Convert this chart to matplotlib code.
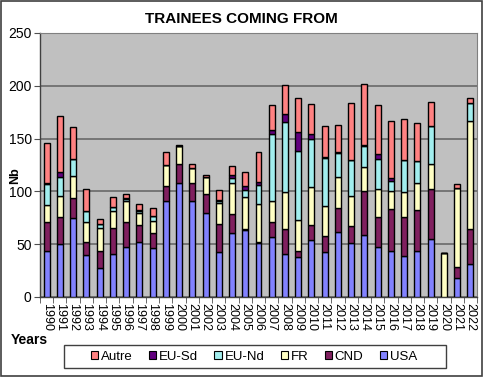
import matplotlib.pyplot as plt
import numpy as np
from matplotlib.patches import Rectangle

years = [str(y) for y in range(1990, 2023)]

usa = [44, 50, 75, 40, 27, 41, 47, 52, 46, 91, 108, 91, 80, 43, 61, 63, 51,
       57, 41, 38, 54, 43, 62, 51, 59, 47, 44, 39, 44, 55, 0, 18, 31]
cnd = [27, 26, 19, 12, 17, 24, 24, 16, 15, 14, 18, 17, 18, 26, 18, 1, 1,
       14, 23, 6, 14, 15, 22, 16, 41, 29, 39, 37, 38, 47, 0, 10, 33]
fr = [16, 20, 21, 19, 21, 16, 20, 12, 11, 20, 17, 14, 16, 20, 29, 31, 36,
      20, 35, 29, 36, 28, 30, 29, 23, 26, 17, 23, 26, 24, 42, 75, 103]
eu_nd = [20, 18, 16, 10, 4, 4, 2, 1, 5, 0, 0, 0, 0, 2, 5, 6, 18,
         63, 67, 65, 46, 46, 22, 34, 20, 29, 10, 31, 21, 36, 0, 0, 17]
eu_sd = [1, 4, 0, 0, 0, 0, 1, 1, 0, 0, 0, 0, 0, 1, 3, 4, 3,
         4, 7, 18, 4, 1, 1, 0, 1, 4, 3, 0, 0, 0, 0, 0, 0]
autre = [38, 53, 30, 21, 5, 10, 4, 6, 7, 12, 1, 4, 2, 9, 8, 13, 28,
         24, 28, 32, 29, 29, 26, 54, 58, 47, 54, 39, 36, 23, 0, 4, 4]

series = [("USA", usa, "#8282FF"),
          ("CND", cnd, "#80205F"),
          ("FR", fr, "#FFFFC4"),
          ("EU-Nd", eu_nd, "#A2EEEE"),
          ("EU-Sd", eu_sd, "#62007E"),
          ("Autre", autre, "#FF8282")]

plt.rcParams["font.family"] = ["Liberation Sans", "DejaVu Sans"]

fig = plt.figure(figsize=(4.83, 3.77), dpi=100)
ax = fig.add_axes([40 / 483, 1 - 297 / 377, 437 / 483, 264 / 377])
ax.set_facecolor("#C0C0C0")

x = np.arange(len(years))
bottom = np.zeros(len(years))
handles = []
for name, vals, col in series:
    v = np.array(vals, dtype=float)
    b = ax.bar(x, v, 0.45, bottom=bottom, color=col, edgecolor="black",
               linewidth=1.0, label=name, zorder=3)
    bottom += v
    handles.append(b)

ax.set_xlim(-0.5, len(years) - 0.5)
ax.set_ylim(0, 250)
ax.set_yticks(np.arange(0, 251, 50))
ax.yaxis.grid(True, color="#707070", linewidth=1.3, zorder=0)
ax.tick_params(axis="y", labelsize=10, length=4, color="#505050", pad=2)

ax.set_xticks(x)
ax.set_xticklabels(years, rotation=-90, fontsize=9)
ax.tick_params(axis="x", which="major", length=0, pad=4)
ax.set_xticks(np.arange(-0.5, len(years), 1), minor=True)
ax.tick_params(axis="x", which="minor", length=4, color="#505050")

for side in ["top", "right"]:
    ax.spines[side].set_color("#808080")
for side in ["left", "bottom"]:
    ax.spines[side].set_color("#404040")
    ax.spines[side].set_linewidth(1.0)

fig.text(241 / 483, 1 - 19 / 377, "TRAINEES COMING FROM", ha="center",
         va="center", fontsize=11, fontweight="bold")
fig.text(15 / 483, 1 - 176 / 377, "Nb", ha="center", va="center",
         rotation=90, fontsize=9, fontweight="bold")
fig.text(11 / 483, 1 - 340 / 377, "Years", ha="left", va="center",
         fontsize=10, fontweight="bold")

# legend entries without frame, box drawn separately (Excel-style padding)
leg = fig.legend(handles[::-1], [s[0] for s in series][::-1], ncol=6,
                 loc="center", bbox_to_anchor=(254 / 483, 1 - 357 / 377),
                 fontsize=9.5, frameon=False,
                 handlelength=0.55, handleheight=0.55, handletextpad=0.2,
                 columnspacing=1.25, borderpad=0.3)
for h in leg.legend_handles:
    h.set_edgecolor("black")
    h.set_linewidth(0.8)

fig.patches.append(Rectangle((64 / 483, 1 - 368 / 377), 382 / 483, 23 / 377,
                             transform=fig.transFigure, fill=False,
                             edgecolor="#404040", linewidth=1.0))
fig.patches.append(Rectangle((0.002, 0.002), 0.996, 0.996,
                             transform=fig.transFigure, fill=False,
                             edgecolor="#404040", linewidth=1.2))

fig.savefig("out.png", dpi=100)
